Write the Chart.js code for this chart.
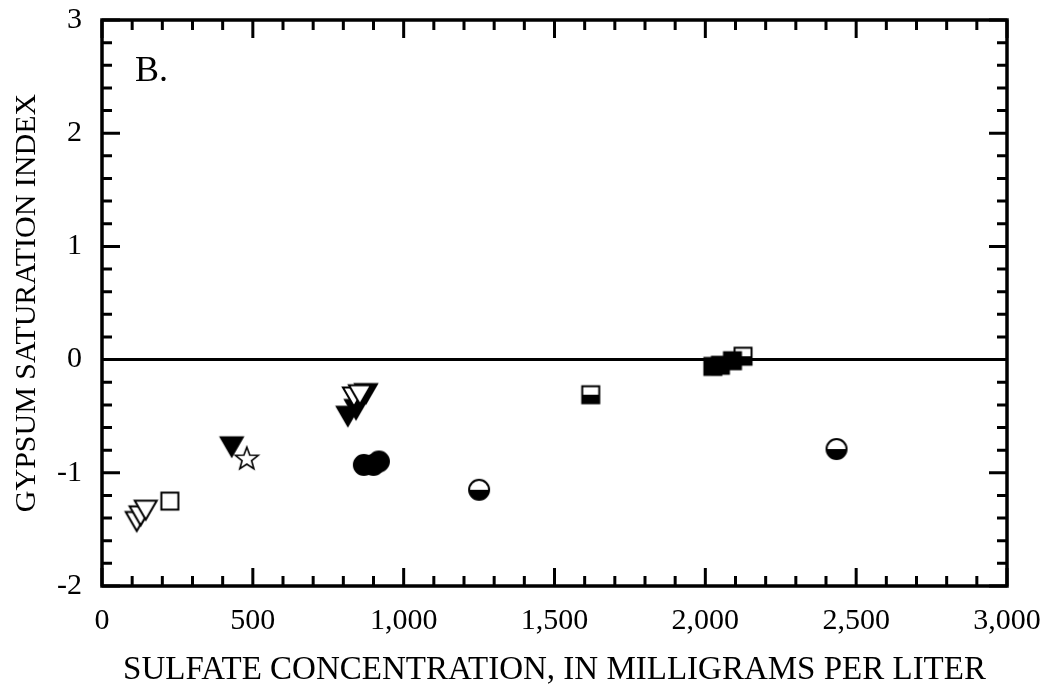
<!DOCTYPE html>
<html lang="en">
<head>
    <meta charset="UTF-8">
    <title>Gypsum saturation index vs sulfate</title>
    <style>
        html, body { margin: 0; padding: 0; background: white; }
        #wrap { width: 1048px; height: 696px; }
    </style>
    <script src="https://cdn.jsdelivr.net/npm/chart.js"></script>
</head>
<body>
    <div id="wrap"><canvas id="chart" width="1048" height="696"></canvas></div>

    <script>
        // values (sulfate mg/L, saturation index)
        const openTriX = [115, 128, 145, 835, 855];
        const openTriY = [-1.43, -1.38, -1.33, -0.33, -0.31];
        const filledTriX = [430, 815, 842, 875];
        const filledTriY = [-0.77, -0.50, -0.44, -0.30];
        const openSquareX = [225];
        const openSquareY = [-1.25];
        const filledSquareX = [2025, 2050, 2090];
        const filledSquareY = [-0.06, -0.05, -0.01];
        const halfSquareX = [1620, 2125];
        const halfSquareY = [-0.31, 0.03];
        const filledCircleX = [868, 900, 918];
        const filledCircleY = [-0.93, -0.93, -0.90];
        const halfCircleX = [1250, 2435];
        const halfCircleY = [-1.15, -0.79];
        const starX = [480];
        const starY = [-0.87];
        const zeroLineX = [0, 3000];
        const zeroLineY = [0, 0];

        const xTicks = [0, 500, 1000, 1500, 2000, 2500, 3000];
        const yTicks = [-2, -1, 0, 1, 2, 3];

        const FONT = "'Liberation Serif', 'Times New Roman', serif";

        function pts(xs, ys) {
            return xs.map((x, i) => ({ x: x, y: ys[i] }));
        }

        // marker images
        function makeMarker(kind) {
            const s = 28, c = s / 2;
            const cv = document.createElement("canvas");
            cv.width = s; cv.height = s;
            const g = cv.getContext("2d");
            g.lineWidth = 2;
            g.strokeStyle = "#000";
            g.fillStyle = "#000";
            if (kind === "openTri" || kind === "filledTri") {
                const w = 22, h = 19;
                g.beginPath();
                g.moveTo(c - w / 2, c - h / 2);
                g.lineTo(c + w / 2, c - h / 2);
                g.lineTo(c, c + h / 2);
                g.closePath();
                if (kind === "filledTri") g.fill();
                else { g.fillStyle = "#fff"; g.fill(); }
                g.stroke();
            } else if (kind === "openSquare" || kind === "filledSquare" || kind === "halfSquare") {
                const a = 17;
                g.fillStyle = "#fff";
                g.fillRect(c - a / 2, c - a / 2, a, a);
                g.fillStyle = "#000";
                if (kind === "filledSquare") g.fillRect(c - a / 2, c - a / 2, a, a);
                if (kind === "halfSquare") g.fillRect(c - a / 2, c, a, a / 2);
                g.strokeRect(c - a / 2, c - a / 2, a, a);
            } else if (kind === "filledCircle" || kind === "halfCircle") {
                const r = 10;
                g.beginPath();
                g.arc(c, c, r, 0, Math.PI * 2);
                g.fillStyle = kind === "filledCircle" ? "#000" : "#fff";
                g.fill();
                if (kind === "halfCircle") {
                    g.beginPath();
                    g.arc(c, c, r, 0, Math.PI);
                    g.closePath();
                    g.fillStyle = "#000";
                    g.fill();
                }
                g.beginPath();
                g.arc(c, c, r, 0, Math.PI * 2);
                g.stroke();
            } else if (kind === "star") {
                const ro = 12, ri = 5;
                g.beginPath();
                for (let i = 0; i < 10; i++) {
                    const r = i % 2 === 0 ? ro : ri;
                    const a = -Math.PI / 2 + i * Math.PI / 5;
                    const px = c + r * Math.cos(a), py = c + 1 + r * Math.sin(a);
                    if (i === 0) g.moveTo(px, py); else g.lineTo(px, py);
                }
                g.closePath();
                g.fillStyle = "#fff";
                g.fill();
                g.lineWidth = 1.6;
                g.stroke();
            }
            return cv;
        }

        function markerSet(xs, ys, kind) {
            return {
                type: "scatter",
                data: pts(xs, ys),
                pointStyle: makeMarker(kind),
                pointRadius: 12,
                pointHoverRadius: 12,
                order: 1
            };
        }

        // frame and inward ticks on all four sides
        const framePlugin = {
            id: "frame",
            afterDatasetsDraw(chart) {
                const { ctx, chartArea: a, scales } = chart;
                const xs = scales.x, ys = scales.y;
                ctx.save();
                ctx.strokeStyle = "#000";
                ctx.lineWidth = 3;
                ctx.beginPath();
                for (let v = 0; v <= 3000; v += 100) {
                    const px = xs.getPixelForValue(v);
                    const len = v % 500 === 0 ? 18 : 10;
                    ctx.moveTo(px, a.bottom); ctx.lineTo(px, a.bottom - len);
                    ctx.moveTo(px, a.top); ctx.lineTo(px, a.top + len);
                }
                for (let k = -10; k <= 15; k++) {
                    const v = k / 5;
                    const py = ys.getPixelForValue(v);
                    const len = k % 5 === 0 ? 18 : 10;
                    ctx.moveTo(a.left, py); ctx.lineTo(a.left + len, py);
                    ctx.moveTo(a.right, py); ctx.lineTo(a.right - len, py);
                }
                ctx.stroke();
                ctx.lineWidth = 3.5;
                ctx.strokeRect(a.left, a.top, a.right - a.left, a.bottom - a.top);
                // panel letter
                ctx.fillStyle = "#000";
                ctx.font = "36px " + FONT;
                ctx.textBaseline = "alphabetic";
                ctx.fillText("B.", a.left + 33, a.top + 61);
                ctx.restore();
            }
        };

        new Chart(document.getElementById("chart"), {
            data: {
                datasets: [
                    {
                        type: "line",
                        data: pts(zeroLineX, zeroLineY),
                        borderColor: "#000",
                        borderWidth: 3,
                        pointRadius: 0,
                        order: 10
                    },
                    markerSet(openTriX, openTriY, "openTri"),
                    markerSet(filledTriX, filledTriY, "filledTri"),
                    markerSet(openSquareX, openSquareY, "openSquare"),
                    markerSet(filledSquareX, filledSquareY, "filledSquare"),
                    markerSet(halfSquareX, halfSquareY, "halfSquare"),
                    markerSet(filledCircleX, filledCircleY, "filledCircle"),
                    markerSet(halfCircleX, halfCircleY, "halfCircle"),
                    markerSet(starX, starY, "star")
                ]
            },
            options: {
                responsive: false,
                animation: false,
                layout: { padding: { top: 20, right: 41, left: 0, bottom: 0 } },
                plugins: { legend: { display: false }, tooltip: { enabled: false } },
                scales: {
                    x: {
                        type: "linear",
                        min: 0, max: 3000,
                        afterBuildTicks: s => { s.ticks = xTicks.map(v => ({ value: v })); },
                        afterFit: s => { s.height = 110; s.paddingLeft = 0; s.paddingRight = 0; },
                        grid: { display: false, drawTicks: false },
                        border: { display: false },
                        ticks: {
                            color: "#000",
                            padding: 17,
                            maxRotation: 0,
                            font: { family: FONT, size: 30 },
                            callback: v => v.toLocaleString("en-US")
                        },
                        title: {
                            display: true,
                            text: "SULFATE CONCENTRATION, IN MILLIGRAMS PER LITER",
                            color: "#000",
                            font: { family: FONT, size: 33 },
                            padding: { top: 0, bottom: 6 }
                        }
                    },
                    y: {
                        type: "linear",
                        min: -2, max: 3,
                        afterBuildTicks: s => { s.ticks = yTicks.map(v => ({ value: v })); },
                        afterFit: s => { s.width = 102; s.paddingTop = 0; s.paddingBottom = 0; },
                        grid: { display: false, drawTicks: false },
                        border: { display: false },
                        ticks: {
                            color: "#000",
                            padding: 20,
                            font: { family: FONT, size: 30 },
                            callback: v => String(v)
                        },
                        title: {
                            display: true,
                            text: "GYPSUM SATURATION INDEX",
                            color: "#000",
                            font: { family: FONT, size: 30 },
                            padding: { top: 9, bottom: 0 }
                        }
                    }
                }
            },
            plugins: [framePlugin]
        });
    </script>
</body>
</html>
